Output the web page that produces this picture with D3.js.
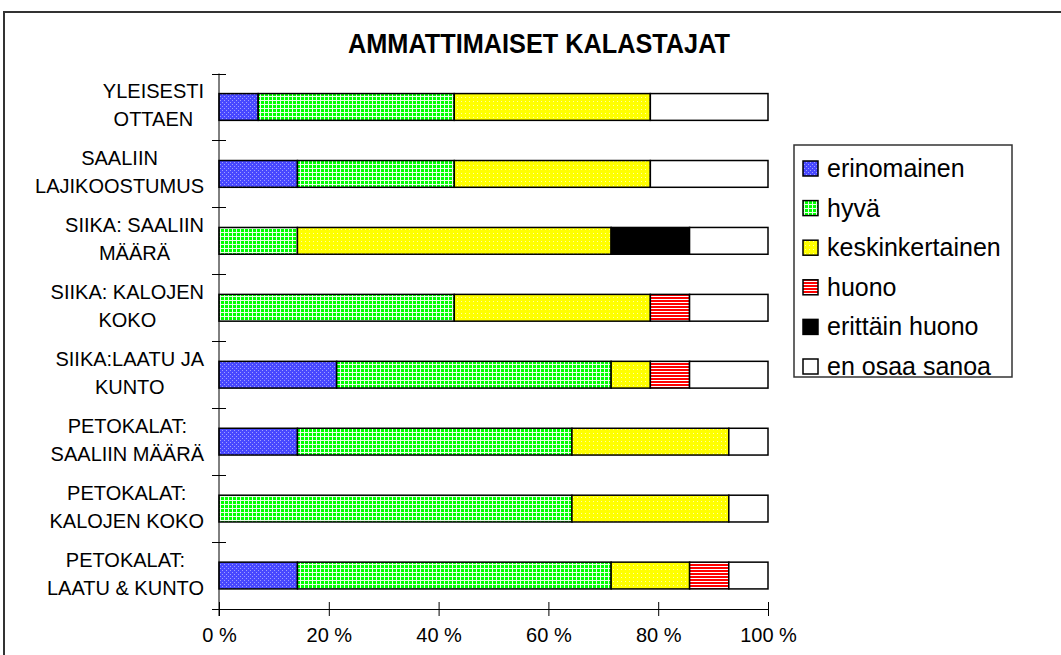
<!DOCTYPE html>
<html>
<head>
<meta charset="utf-8">
<script src="https://cdn.jsdelivr.net/npm/d3@7"></script>
<style>
  html, body { margin: 0; padding: 0; background: #fff; }
  svg { display: block; font-family: "Liberation Sans", Arial, sans-serif; }
</style>
</head>
<body>
<svg id="chart" width="1061" height="655"></svg>
<script>
// Survey answers of professional fishers, share of respondents (%)
const categories = [
  ["YLEISESTI", "OTTAEN"],
  ["SAALIIN", "LAJIKOOSTUMUS"],
  ["SIIKA: SAALIIN", "MÄÄRÄ"],
  ["SIIKA: KALOJEN", "KOKO"],
  ["SIIKA:LAATU JA", "KUNTO"],
  ["PETOKALAT:", "SAALIIN MÄÄRÄ"],
  ["PETOKALAT:", "KALOJEN KOKO"],
  ["PETOKALAT:", "LAATU & KUNTO"]
];
const seriesNames = ["erinomainen", "hyvä", "keskinkertainen", "huono", "erittäin huono", "en osaa sanoa"];
const erinomainen   = [7.14, 14.29, 0,     0,     21.43, 14.29, 0,     14.29];
const hyva          = [35.71, 28.57, 14.29, 42.86, 50.00, 50.00, 64.29, 57.14];
const keskinkert    = [35.71, 35.71, 57.14, 35.71, 7.14,  28.57, 28.57, 14.29];
const huono         = [0,     0,     0,     7.14,  7.14,  0,     0,     7.14];
const erittainHuono = [0,     0,     14.29, 0,     0,     0,     0,     0];
const enOsaaSanoa   = [21.43, 21.43, 14.29, 14.29, 14.29, 7.14,  7.14,  7.14];
const tickLabels = ["0 %", "20 %", "40 %", "60 %", "80 %", "100 %"];

const seriesValues = [erinomainen, hyva, keskinkert, huono, erittainHuono, enOsaaSanoa];
const rows = categories.map((c, i) => {
  const r = { key: i };
  seriesNames.forEach((s, j) => r[s] = seriesValues[j][i]);
  return r;
});

const svg = d3.select("#chart");
const defs = svg.append("defs");

// Fill patterns for the series
function pat(id, w, h, build) {
  const p = defs.append("pattern").attr("id", id).attr("patternUnits", "userSpaceOnUse")
    .attr("width", w).attr("height", h);
  build(p);
}
pat("p-blue", 4, 4, p => {
  p.append("rect").attr("width", 4).attr("height", 4).attr("fill", "#4848ff");
  p.append("rect").attr("x", 0).attr("y", 0).attr("width", 1).attr("height", 1).attr("fill", "#a0a0ff");
  p.append("rect").attr("x", 2).attr("y", 2).attr("width", 1).attr("height", 1).attr("fill", "#a0a0ff");
});
pat("p-green", 4, 4, p => {
  p.append("rect").attr("width", 4).attr("height", 4).attr("fill", "#00ff00");
  p.append("rect").attr("x", 0).attr("y", 0).attr("width", 4).attr("height", 1).attr("fill", "#e8ffe8");
  p.append("rect").attr("x", 0).attr("y", 0).attr("width", 1).attr("height", 4).attr("fill", "#e8ffe8");
});
pat("p-yellow", 4, 4, p => {
  p.append("rect").attr("width", 4).attr("height", 4).attr("fill", "#ffff00");
  p.append("rect").attr("x", 1).attr("y", 1).attr("width", 1).attr("height", 1).attr("fill", "#ffffa8");
});
pat("p-red", 4, 3, p => {
  p.append("rect").attr("width", 4).attr("height", 3).attr("fill", "#ffffff");
  p.append("rect").attr("x", 0).attr("y", 0).attr("width", 4).attr("height", 2).attr("fill", "#ff0000");
});

const fills = {
  "erinomainen": "url(#p-blue)",
  "hyvä": "url(#p-green)",
  "keskinkertainen": "url(#p-yellow)",
  "huono": "url(#p-red)",
  "erittäin huono": "#000000",
  "en osaa sanoa": "#ffffff"
};

// Outer frame
svg.append("rect").attr("x", 4).attr("y", 12).attr("width", 1080).attr("height", 700)
  .attr("fill", "none").attr("stroke", "#333").attr("stroke-width", 2);

// Title
svg.append("text").attr("x", 539).attr("y", 53).attr("text-anchor", "middle")
  .attr("font-size", 27).attr("font-weight", "bold").attr("fill", "#000")
  .attr("textLength", 382).attr("lengthAdjust", "spacingAndGlyphs")
  .text("AMMATTIMAISET KALASTAJAT");

const plot = { left: 219, right: 768, top: 73.5, bottom: 609 };
const x = d3.scaleLinear().domain([0, 100]).range([plot.left, plot.right]);
const y = d3.scaleBand().domain(d3.range(categories.length)).range([plot.top, plot.bottom]).paddingInner(0.6).paddingOuter(0.3);
const yb = d3.scaleBand().domain(d3.range(categories.length)).range([plot.top, plot.bottom]);

const stack = d3.stack().keys(seriesNames).offset(d3.stackOffsetExpand);
const layers = stack(rows);

// Bars
const g = svg.append("g");
layers.forEach(layer => {
  g.selectAll(null).data(layer.filter(d => d[1] - d[0] > 0)).enter().append("rect")
    .attr("x", d => x(d[0] * 100))
    .attr("y", d => y(d.data.key))
    .attr("width", d => x(d[1] * 100) - x(d[0] * 100))
    .attr("height", y.bandwidth())
    .attr("fill", fills[layer.key])
    .attr("stroke", "#000").attr("stroke-width", 1.5);
});

// Y axis with crossing ticks on band boundaries
svg.append("line").attr("x1", plot.left).attr("x2", plot.left).attr("y1", plot.top).attr("y2", plot.bottom + 7)
  .attr("stroke", "#000").attr("stroke-width", 1);
d3.range(categories.length).forEach(i => {
  const yy = Math.round(plot.top + i * yb.step()) + 0.5;
  svg.append("line").attr("x1", plot.left - 7).attr("x2", plot.left + 7).attr("y1", yy).attr("y2", yy)
    .attr("stroke", "#000").attr("stroke-width", 1);
});

// X axis with crossing ticks
const xAxis = d3.axisBottom(x).tickValues([0, 20, 40, 60, 80, 100])
  .tickFormat((d, i) => tickLabels[i]).tickSize(7).tickSizeOuter(0);
const xg = svg.append("g").attr("transform", `translate(0,${plot.bottom})`).call(xAxis);
xg.select(".domain").attr("stroke", "#000").attr("d", `M${plot.left - 7},0.5H${plot.right}`);
xg.selectAll(".tick line").attr("stroke", "#000").attr("y1", -7).attr("y2", 7);
xg.selectAll(".tick text").attr("font-size", 20).attr("font-family", "Liberation Sans, Arial, sans-serif")
  .attr("fill", "#000").attr("dy", null).attr("y", 33);

// Category labels: two centred lines, block right-aligned
categories.forEach((lines, i) => {
  const cy = yb(i) + yb.bandwidth() / 2;
  const t = svg.append("text").attr("font-size", 20).attr("fill", "#000").attr("text-anchor", "middle");
  const spans = lines.map((ln, k) => t.append("tspan").text(ln).attr("y", cy - 8.5 + k * 27.5));
  const w = d3.max(spans, s => s.node().getComputedTextLength());
  spans.forEach(s => s.attr("x", 204 - w / 2));
});

// Legend
const lg = svg.append("g");
lg.append("rect").attr("x", 794).attr("y", 145).attr("width", 218).attr("height", 232)
  .attr("fill", "#fff").attr("stroke", "#333").attr("stroke-width", 1.5);
seriesNames.forEach((s, i) => {
  const base = 177 + i * 39.6;
  lg.append("rect").attr("x", 803).attr("y", base - 16).attr("width", 15).attr("height", 15)
    .attr("fill", fills[s]).attr("stroke", "#000").attr("stroke-width", 1.5);
  lg.append("text").attr("x", 827).attr("y", base).attr("font-size", 25).attr("fill", "#000").text(s);
});
</script>
</body>
</html>
